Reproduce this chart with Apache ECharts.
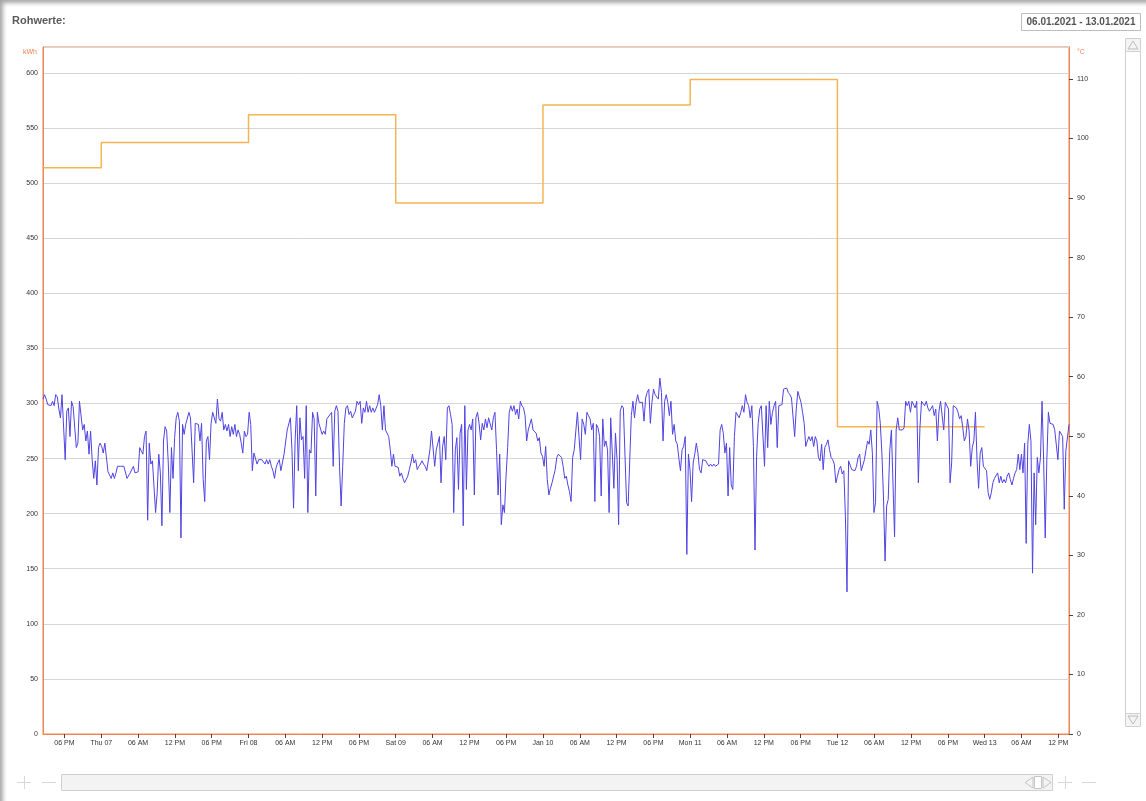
<!DOCTYPE html>
<html><head><meta charset="utf-8">
<script src="https://cdn.jsdelivr.net/npm/echarts@6/dist/echarts.min.js"></script>
<style>
html,body{margin:0;padding:0;background:#fff;}
#chart{position:absolute;left:0;top:0;width:1146px;height:801px;}
#frame{position:absolute;left:0;top:0;width:1146px;height:801px;pointer-events:none;box-shadow:inset 4px 4px 4px -1px rgba(0,0,0,0.35);}
</style></head><body>
<div id="chart"></div><div id="frame"></div>
<script>
// ---- data ----
const startTime = '2021-01-06T14:30:00';
const endTime = '2021-01-13T13:45:00';

const kwhValues = [
304,308,304,299,298,298,302,298,308,306,
295,287,308,308,249,293,296,270,302,297,
297,260,264,302,302,276,281,266,275,254,
275,249,232,248,226,260,264,261,255,264,
264,238,237,232,237,232,237,243,243,243,
243,243,243,232,232,237,238,243,237,237,
238,260,260,254,270,275,194,264,245,248,
249,201,219,254,237,189,266,279,275,246,
201,260,232,269,287,292,284,178,281,272,
281,282,292,287,286,228,282,282,281,266,
282,231,211,266,270,249,282,292,293,282,
304,286,284,292,276,281,275,281,270,279,
272,281,270,276,272,264,255,275,270,272,
292,281,239,255,254,245,249,249,249,249,
245,249,245,249,243,239,232,242,246,249,
239,239,254,255,276,276,287,258,205,267,
298,239,287,267,
270,232,298,201,258,255,292,286,216,292,
282,281,272,275,272,286,287,290,292,243,
293,298,293,243,207,243,282,296,298,290,
293,287,287,293,302,299,302,282,296,292,
302,292,298,292,296,292,293,299,308,298,
276,298,276,275,270,258,243,254,243,243,
242,234,237,232,228,228,234,240,246,254,
246,249,240,243,245,248,245,243,239,240,
258,275,275,243,258,264,270,228,261,270,
249,296,298,290,281,201,258,269,222,273,
281,189,298,222,276,281,276,286,217,287,
292,282,267,282,276,286,278,287,287,276,
287,292,258,217,254,190,208,201,234,260,
292,298,293,298,290,295,286,302,298,296,
289,266,276,275,286,276,275,273,266,269,
255,252,243,261,231,217,223,228,228,240,
251,254,254,251,243,232,234,226,220,211,
251,258,275,292,270,249,286,281,272,292,
289,286,276,282,211,281,278,270,216,286,
261,266,258,201,287,286,223,273,249,190,
293,298,296,296,210,207,207,289,302,287,
301,308,301,302,301,284,305,310,313,282,
301,313,308,308,304,323,310,266,302,308,
301,289,302,272,281,266,263,
250,239,258,261,270,163,254,240,211,246,
254,264,255,240,237,249,249,248,245,243,
245,243,245,243,243,245,276,281,273,255,
264,216,260,226,222,270,292,292,287,292,
298,292,308,301,298,287,298,261,167,252,
282,295,298,298,243,298,260,302,281,292,
298,302,260,298,298,299,313,314,314,310,
308,305,306,270,295,311,306,301,292,282,
261,266,270,266,270,261,270,266,251,248,
263,240,260,263,267,258,251,249,245,228,
234,240,243,236,239,198,129,248,249,240,
239,239,243,251,254,239,239,249,258,266,
263,276,255,201,210,302,296,282,255,216,
157,207,213,258,276,276,179,276,287,
276,276,276,278,302,298,302,292,302,301,
296,302,228,278,302,301,298,302,296,293,
292,298,289,295,266,293,302,302,276,301,
302,295,228,246,298,298,296,292,286,289,
278,266,270,286,275,243,260,266,292,249,
223,255,260,243,242,239,219,213,219,228,
232,231,237,228,234,228,231,228,234,237,
231,226,232,237,240,254,240,254,237,264,
173,263,281,266,146,237,190,251,237,251,
302,249,178,248,292,282,282,281,276,275,
249,275,275,270,204,257,257,281
];

const dayDates  = ['2021-01-06','2021-01-07','2021-01-08','2021-01-09','2021-01-10','2021-01-11','2021-01-12','2021-01-13'];
const dayValues = [514, 537, 562, 482, 571, 594, 279, 279];

const dayTickDates  = ['2021-01-07','2021-01-08','2021-01-09','2021-01-10','2021-01-11','2021-01-12','2021-01-13'];
const dayTickLabels = ['Thu 07','Fri 08','Sat 09','Jan 10','Mon 11','Tue 12','Wed 13'];
const hourTickHours  = [6, 12, 18];
const hourTickLabels = ['06 AM','12 PM','06 PM'];
const leftTicks  = [0,50,100,150,200,250,300,350,400,450,500,550,600];
const rightTicks = [0,10,20,30,40,50,60,70,80,90,100,110];

// ---- build ----
const ORANGE = '#ee8552';
const FONT = '"Liberation Sans", Arial, sans-serif';
const t0 = new Date(startTime).getTime();
const t1 = new Date(endTime).getTime();
const step = (t1 - t0) / (kwhValues.length - 1);
const blueData = kwhValues.map((v, i) => [t0 + i * step, v]);
const stepData = dayDates.map((d, i) => [new Date(d + 'T00:00:00').getTime(), dayValues[i]]);

function pad(n){ return (n < 10 ? '0' : '') + n; }
function xLabel(val){
  const d = new Date(val);
  if (d.getMinutes() !== 0 || d.getSeconds() !== 0) return '';
  const h = d.getHours();
  if (h === 0) {
    const key = d.getFullYear() + '-' + pad(d.getMonth() + 1) + '-' + pad(d.getDate());
    const k = dayTickDates.indexOf(key);
    return k >= 0 ? dayTickLabels[k] : '';
  }
  const j = hourTickHours.indexOf(h);
  return j >= 0 ? hourTickLabels[j] : '';
}

const chart = echarts.init(document.getElementById('chart'), null, {renderer: 'canvas'});
const chrome = '#d0d0d0';
chart.setOption({
  animation: false,
  backgroundColor: 'transparent',
  textStyle: {fontFamily: FONT},
  grid: {left: 43, right: 77, top: 47, bottom: 67, show: true, borderColor: ORANGE, borderWidth: 1, backgroundColor: 'transparent', containLabel: false},
  xAxis: {
    type: 'time', min: t0, max: t1,
    minInterval: 6.5 * 3600e3, maxInterval: 6.5 * 3600e3, splitNumber: 28,
    axisLine: {show: true, lineStyle: {color: ORANGE, width: 1}},
    axisTick: {show: true, length: 4, lineStyle: {color: '#444'}},
    axisLabel: {fontSize: 7, color: '#333', margin: 6, fontFamily: FONT, formatter: xLabel, showMinLabel: false, showMaxLabel: false},
    splitLine: {show: false}
  },
  yAxis: [
    {
      type: 'value', min: 0, max: 623.6, interval: 50, position: 'left',
      axisLine: {show: true, lineStyle: {color: ORANGE}},
      axisTick: {show: false},
      axisLabel: {fontSize: 7, color: '#333', margin: 5, fontFamily: FONT, customValues: leftTicks},
      splitLine: {show: true, lineStyle: {color: '#d6d6d6', width: 1}}
    },
    {
      type: 'value', min: 0, max: 115.36, interval: 10, position: 'right',
      axisLine: {show: true, lineStyle: {color: ORANGE}},
      axisTick: {show: true, length: 4, lineStyle: {color: '#444'}, customValues: rightTicks},
      axisLabel: {fontSize: 7, color: '#333', margin: 8, fontFamily: FONT, customValues: rightTicks},
      splitLine: {show: false}
    }
  ],
  series: [
    {
      type: 'line', yAxisIndex: 0, data: stepData, step: 'end', showSymbol: false, symbol: 'none',
      lineStyle: {color: '#f5b452', width: 1.5}, z: 3
    },
    {
      type: 'line', yAxisIndex: 0, data: blueData, showSymbol: false, symbol: 'none',
      lineStyle: {color: '#4f43e2', width: 1}, z: 4
    }
  ],
  graphic: [
    {type: 'text', x: 12, y: 15, style: {text: 'Rohwerte:', font: 'bold 11px ' + FONT, fill: '#5a5a5a'}},
    {type: 'rect', shape: {x: 1021.5, y: 13.5, width: 119, height: 17}, style: {fill: '#fff', stroke: '#bdbdbd', lineWidth: 1}},
    {type: 'text', x: 1081, y: 22.5, style: {text: '06.01.2021 - 13.01.2021', font: 'bold 10px ' + FONT, fill: '#555', align: 'center', verticalAlign: 'middle'}},
    {type: 'text', x: 37, y: 52, style: {text: 'kWh', font: '7px ' + FONT, fill: ORANGE, align: 'right', verticalAlign: 'middle'}},
    {type: 'text', x: 1077, y: 52, style: {text: '°C', font: '7px ' + FONT, fill: ORANGE, align: 'left', verticalAlign: 'middle'}},
    // vertical scrollbar
    {type: 'rect', shape: {x: 1125.5, y: 38.5, width: 15, height: 688}, style: {fill: '#fff', stroke: chrome, lineWidth: 1}},
    {type: 'rect', shape: {x: 1125.5, y: 38.5, width: 15, height: 13}, style: {fill: '#f4f4f4', stroke: chrome, lineWidth: 1}},
    {type: 'polygon', shape: {points: [[1128, 49], [1133, 41], [1138, 49]]}, style: {fill: 'none', stroke: '#bbb', lineWidth: 1}},
    {type: 'rect', shape: {x: 1125.5, y: 713.5, width: 15, height: 13}, style: {fill: '#f4f4f4', stroke: chrome, lineWidth: 1}},
    {type: 'polygon', shape: {points: [[1128, 716], [1133, 724], [1138, 716]]}, style: {fill: 'none', stroke: '#bbb', lineWidth: 1}},
    // horizontal navigator
    {type: 'rect', shape: {x: 61.5, y: 774.5, width: 991, height: 16}, style: {fill: '#f3f3f3', stroke: chrome, lineWidth: 1}},
    {type: 'polygon', shape: {points: [[1033, 777], [1025, 782.5], [1033, 788]]}, style: {fill: 'none', stroke: '#c4c4c4', lineWidth: 1}},
    {type: 'rect', shape: {x: 1034.5, y: 776.5, width: 7, height: 12}, style: {fill: '#fff', stroke: '#c4c4c4', lineWidth: 1}},
    {type: 'polygon', shape: {points: [[1043, 777], [1051, 782.5], [1043, 788]]}, style: {fill: 'none', stroke: '#c4c4c4', lineWidth: 1}},
    {type: 'line', shape: {x1: 17, y1: 782.5, x2: 31, y2: 782.5}, style: {stroke: '#d8d8d8', lineWidth: 1}},
    {type: 'line', shape: {x1: 24.5, y1: 776, x2: 24.5, y2: 789}, style: {stroke: '#d8d8d8', lineWidth: 1}},
    {type: 'line', shape: {x1: 42, y1: 782.5, x2: 56, y2: 782.5}, style: {stroke: '#d8d8d8', lineWidth: 1}},
    {type: 'line', shape: {x1: 1058, y1: 782.5, x2: 1072, y2: 782.5}, style: {stroke: '#d8d8d8', lineWidth: 1}},
    {type: 'line', shape: {x1: 1065.5, y1: 776, x2: 1065.5, y2: 789}, style: {stroke: '#d8d8d8', lineWidth: 1}},
    {type: 'line', shape: {x1: 1082, y1: 782.5, x2: 1096, y2: 782.5}, style: {stroke: '#d8d8d8', lineWidth: 1}}
  ]
});
</script>
</body></html>
